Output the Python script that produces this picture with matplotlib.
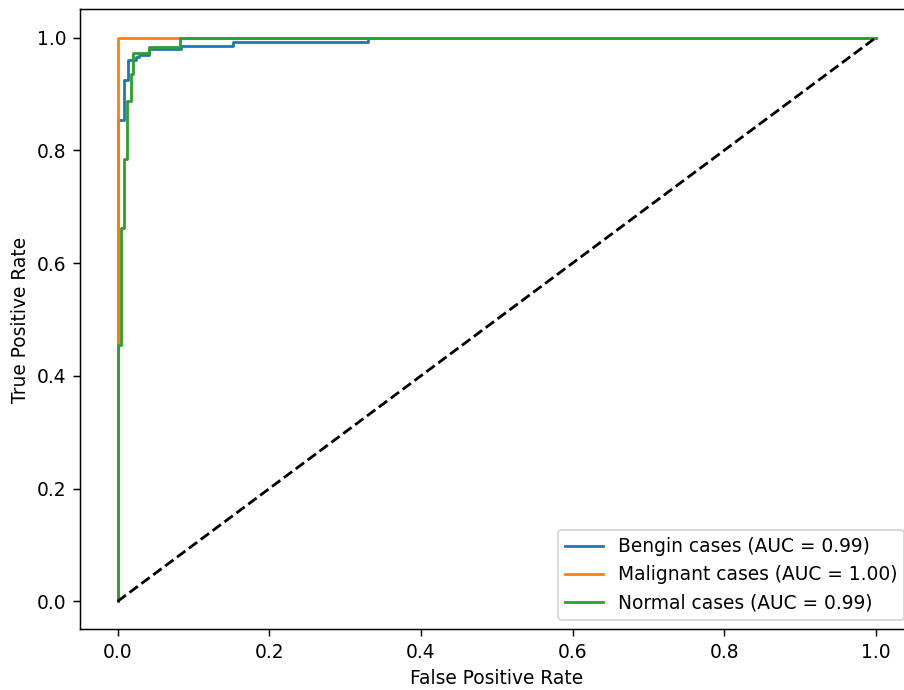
import matplotlib
matplotlib.use('Agg')
import matplotlib.pyplot as plt

# ROC curve points (step curves)
fpr_bengin = [0.0, 0.0, 0.009, 0.009, 0.014, 0.014, 0.024, 0.024, 0.028, 0.028, 0.041, 0.041, 0.084, 0.084, 0.152, 0.152, 0.33, 0.33, 1.0]
tpr_bengin = [0.0, 0.853, 0.853, 0.924, 0.924, 0.960, 0.960, 0.966, 0.966, 0.970, 0.970, 0.979, 0.979, 0.986, 0.986, 0.993, 0.993, 1.0, 1.0]

fpr_malig = [0.0, 0.0, 1.0]
tpr_malig = [0.0, 1.0, 1.0]

fpr_normal = [0.0, 0.0, 0.005, 0.005, 0.009, 0.009, 0.012, 0.012, 0.017, 0.017, 0.020, 0.020, 0.041, 0.041, 0.082, 0.082, 1.0]
tpr_normal = [0.0, 0.454, 0.454, 0.663, 0.663, 0.784, 0.784, 0.888, 0.888, 0.936, 0.936, 0.972, 0.972, 0.983, 0.983, 1.0, 1.0]

labels = ['Bengin cases (AUC = 0.99)', 'Malignant cases (AUC = 1.00)', 'Normal cases (AUC = 0.99)']

dpi = 134
fig = plt.figure(figsize=(904 / dpi, 690 / dpi), dpi=dpi)
# the original picture is cropped on the right, so the axes runs past the edge
ax = fig.add_axes([0.0882, 0.0877, 0.9226, 0.8986])

ax.plot(fpr_bengin, tpr_bengin, label=labels[0])
ax.plot(fpr_malig, tpr_malig, label=labels[1])
ax.plot(fpr_normal, tpr_normal, label=labels[2])
ax.plot([0, 1], [0, 1], 'k--')

ax.set_xlabel('False Positive Rate')
ax.set_ylabel('True Positive Rate')
ax.legend(loc='lower right')

fig.savefig('out.png', dpi=dpi)
